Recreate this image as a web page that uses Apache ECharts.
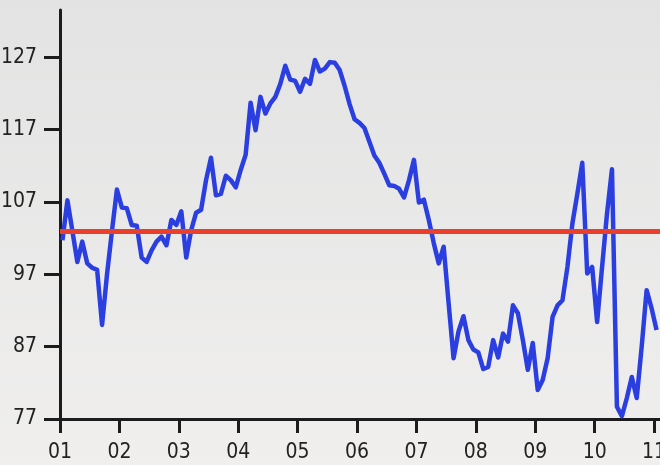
<!DOCTYPE html>
<html>
<head>
<meta charset="utf-8">
<script src="https://cdn.jsdelivr.net/npm/echarts@6/dist/echarts.min.js"></script>
<style>
html,body{margin:0;padding:0;}
#chart{width:660px;height:465px;}
</style>
</head>
<body>
<div id="chart"></div>
<script>
// Monthly index, Jan 2001 .. Jan 2011 (121 months)
const values = [
  101.7, 107.2, 103.0, 98.7, 101.5, 98.5, 97.9, 97.6, 90.0, 97.0, 103.0, 108.7,
  106.2, 106.1, 103.8, 103.7, 99.3, 98.7, 100.3, 101.5, 102.2, 101.0, 104.5, 103.8,
  105.7, 99.3, 103.1, 105.5, 105.9, 110.0, 113.1, 107.9, 108.1, 110.6, 110.0, 109.0,
  111.4, 113.5, 120.7, 116.9, 121.5, 119.2, 120.6, 121.5, 123.3, 125.8, 123.9, 123.7,
  122.2, 124.0, 123.3, 126.6, 125.0, 125.4, 126.3, 126.2, 125.2, 123.0, 120.5, 118.4,
  117.9, 117.2, 115.3, 113.4, 112.4, 110.9, 109.3, 109.2, 108.8, 107.6, 110.0, 112.8,
  106.9, 107.3, 104.5, 101.3, 98.5, 100.8, 93.0, 85.4, 89.1, 91.2, 87.9, 86.6,
  86.2, 83.9, 84.2, 87.9, 85.5, 88.8, 87.7, 92.7, 91.6, 87.9, 83.8, 87.5,
  81.0, 82.4, 85.4, 91.1, 92.7, 93.4, 98.0, 104.0, 108.1, 112.4, 97.1, 98.0,
  90.4, 98.0, 105.4, 111.5, 78.7, 77.4, 79.9, 82.8, 79.9, 87.0, 94.8, 92.3,
  89.3
];
const referenceLevel = 103;
const yTicks = [77, 87, 97, 107, 117, 127];
const xTickLabels = ['01','02','03','04','05','06','07','08','09','10','11'];

// points plotted at mid-month, x in years since Jan 2001
const seriesData = values.map((v, i) => [(i + 0.5) / 12, v]);
const xTickValues = xTickLabels.map((t, i) => i);

const chart = echarts.init(document.getElementById('chart'), null, {renderer: 'canvas'});
const font = '"DejaVu Sans Condensed", "DejaVu Sans", sans-serif';
const axisColor = '#1c1c1c';

chart.setOption({
  animation: false,
  backgroundColor: {
    type: 'linear', x: 0, y: 0, x2: 0, y2: 1,
    colorStops: [{offset: 0, color: '#e3e3e3'}, {offset: 1, color: '#f0efee'}]
  },
  grid: {left: 60, right: 0, top: 10, bottom: 46, containLabel: false, outerBoundsMode: 'none'},
  xAxis: {
    type: 'value', min: 0, max: 10.1, interval: 1,
    axisLine: {show: true, onZero: false, lineStyle: {color: axisColor, width: 3}},
    axisTick: {show: true, length: 14, lineStyle: {color: axisColor, width: 3}, customValues: xTickValues},
    axisLabel: {
      customValues: xTickValues,
      formatter: v => xTickLabels[Math.round(v)] || '',
      color: '#222', fontFamily: font, fontSize: 21, margin: 23
    },
    splitLine: {show: false}
  },
  yAxis: {
    type: 'value', min: 77, max: 133.5,
    axisLine: {show: true, lineStyle: {color: axisColor, width: 3}},
    axisTick: {show: true, length: 16, lineStyle: {color: axisColor, width: 3}, customValues: yTicks},
    axisLabel: {customValues: yTicks, color: '#222', fontFamily: font, fontSize: 21, margin: 23},
    splitLine: {show: false}
  },
  series: [{
    type: 'line',
    data: seriesData,
    showSymbol: false,
    symbol: 'none',
    lineStyle: {color: '#2b3fe0', width: 4.5, join: 'round'},
    z: 2,
    markLine: {
      silent: true,
      symbol: ['none', 'none'],
      label: {show: false},
      lineStyle: {color: '#e8402c', width: 5, type: 'solid'},
      data: [{yAxis: referenceLevel}],
      z: 3
    }
  }]
});
</script>
</body>
</html>
